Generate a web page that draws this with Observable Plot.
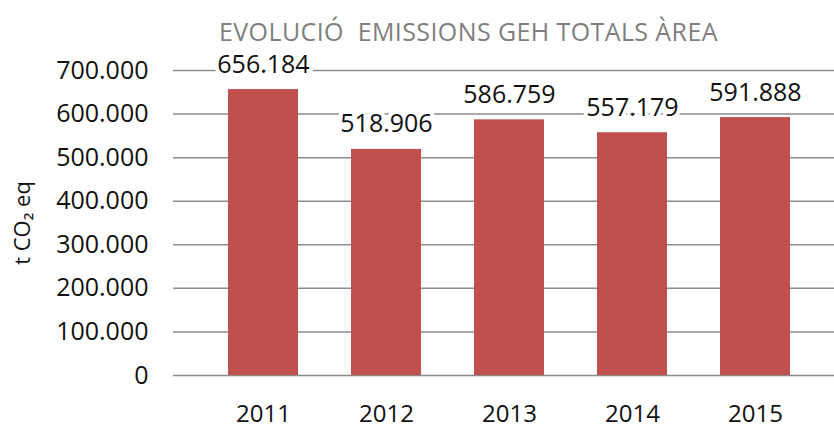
<!DOCTYPE html>
<html>
<head>
<meta charset="utf-8">
<script src="https://cdn.jsdelivr.net/npm/d3@7"></script>
<script src="https://cdn.jsdelivr.net/npm/@observablehq/plot@0.6"></script>
<style>
  html, body { margin: 0; padding: 0; background: #fff; }
  #wrap { width: 834px; height: 429px; position: relative; overflow: hidden; }
  #title { height: 40px; width: 834px; position: relative; z-index: 2; }
  #title span {
    position: absolute; left: 219px; top: 31px; transform: translateY(-50%); line-height: 1;
    font-family: "Open Sans", sans-serif; font-size: 25px; letter-spacing: 0.4px; color: #7f7f7f; white-space: pre;
  }
  svg { display: block; }
</style>
</head>
<body>
<div id="wrap">
  <div id="title"><span>EVOLUCIÓ  EMISSIONS GEH TOTALS ÀREA</span></div>
  <div id="chart"></div>
</div>
<script>
const years = ["2011", "2012", "2013", "2014", "2015"];
const emissions = [656184, 518906, 586759, 557179, 591888];
const yTicks = [0, 100000, 200000, 300000, 400000, 500000, 600000, 700000];
const yLabel = "t CO₂ eq";

const data = years.map((y, i) => ({year: y, value: emissions[i]}));
const fmt = d3.formatLocale({decimal: ",", thousands: ".", grouping: [3], currency: ["", "€"]}).format(",d");

const chart = Plot.plot({
  width: 834,
  height: 389,
  marginLeft: 173,
  marginRight: 0,
  marginTop: 30,
  marginBottom: 54,
  style: {fontFamily: "Open Sans, sans-serif", fontSize: "25px", color: "#111", background: "#fff"},
  x: {domain: years, range: [173, 845], padding: 0.43, label: null},
  y: {domain: [0, 700000], ticks: yTicks, tickFormat: fmt, label: null},
  marks: [
    Plot.ruleY(yTicks, {stroke: "#8c8c8c", strokeWidth: 1.5}),
    Plot.barY(data, {x: "year", y: "value", fill: "#c0504d"}),
    Plot.text(data, {x: "year", y: "value", text: d => fmt(d.value), dy: -25, lineAnchor: "middle",
      fill: "#111", stroke: "#fff", strokeWidth: 8, fontSize: 25}),
    Plot.axisY({ticks: yTicks, tickFormat: fmt, tickSize: 0, tickPadding: 25, fontSize: 25, label: null}),
    Plot.axisX({tickSize: 0, tickPadding: 29, fontSize: 24, label: null}),
    Plot.text([yLabel], {frameAnchor: "left", dx: -151, rotate: -90, textAnchor: "middle", lineAnchor: "middle",
      fontSize: 22, fill: "#111", text: d => d})
  ]
});
document.getElementById("chart").appendChild(chart);
</script>
</body>
</html>
